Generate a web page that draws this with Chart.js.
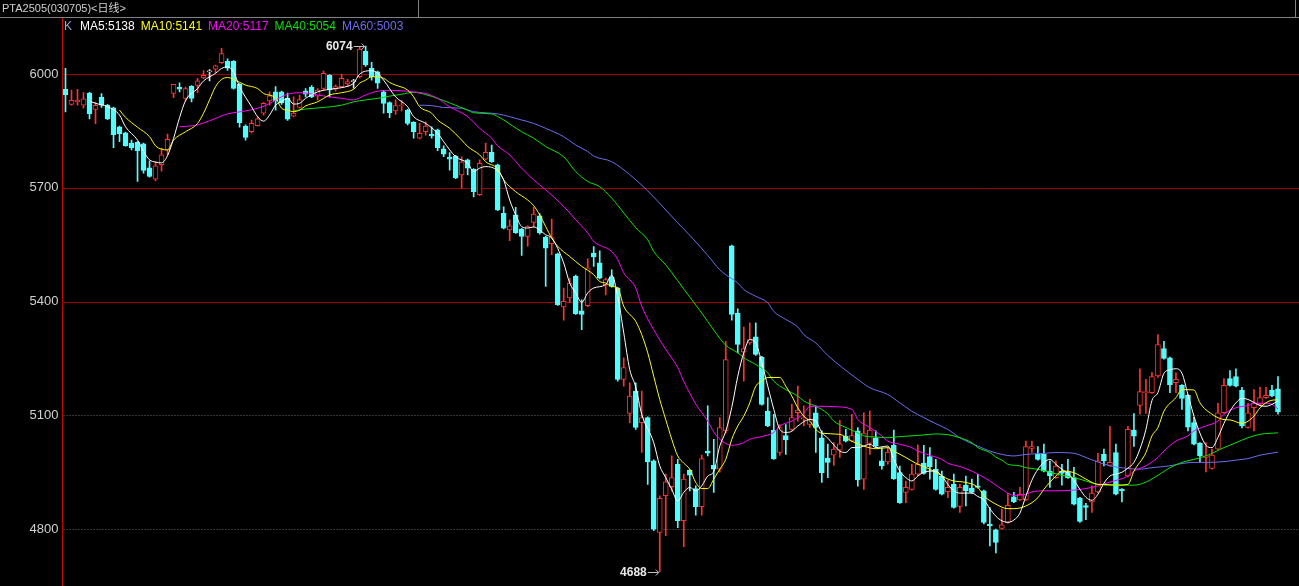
<!DOCTYPE html>
<html>
<head>
<meta charset="utf-8">
<script src="https://cdn.jsdelivr.net/npm/chart.js@4.4.1/dist/chart.umd.min.js"></script>
<style>
  html, body { margin: 0; padding: 0; background: #000; }
  #wrap { width: 1299px; height: 586px; }
</style>
</head>
<body>
<div id="wrap"><canvas id="kline" width="1299" height="586"></canvas></div>
<script>
// PTA2505 daily candles
const title = 'PTA2505(030705)<日线>';
const priceTicks = [4800, 5100, 5400, 5700, 6000];

const opens = [5960,5920,5927,5918,5950,5907,5939,5918,5911,5861,5845,5818,5820,5816,5753,5723,5761,5800,5949,5965,
  5936,5968,5970,5990,6006,6013,6030,6034,6034,5973,5863,5848,5864,5897,5929,5953,5953,5936,5889,5912,
  5955,5965,5942,5962,5997,5960,5967,5974,5980,5993,6061,6015,6006,5953,5925,5903,5916,5905,5873,5831,
  5848,5842,5853,5803,5781,5784,5734,5774,5749,5682,5776,5794,5761,5633,5589,5629,5591,5572,5609,5626,
  5570,5553,5526,5386,5410,5467,5376,5389,5528,5502,5445,5465,5436,5195,5105,5164,5081,5094,4980,4791,
  4888,4912,4971,4822,4955,4907,4859,5005,4968,4958,5059,5547,5370,5267,5291,5307,5254,5111,5061,5002,
  5047,5063,5107,5090,5076,5107,5041,4987,4995,5008,5045,5032,5059,4932,5026,5041,4980,4977,5021,4949,
  4897,4905,4945,4974,4991,4958,4940,4899,4918,4860,4916,4908,4914,4901,4813,4798,4802,4818,4885,4877,
  4877,5013,4997,4997,4953,4936,4953,4951,4936,4882,4862,4872,4898,4997,4968,5002,4905,4940,5061,5126,
  5160,5160,5204,5276,5252,5186,5179,5153,5081,5026,4989,4960,5011,5107,5197,5202,5166,5068,5120,5129,
  5147,5166,5170];
const highs = [6015,5958,5960,5951,5952,5926,5949,5920,5913,5863,5847,5826,5822,5818,5771,5769,5805,5842,5973,5977,
  5966,5970,5989,6009,6012,6024,6068,6040,6036,5975,5866,5879,5888,5925,5953,5967,5955,5950,5940,5945,
  5962,5970,5962,6008,5999,5972,6000,5986,5986,6072,6074,6031,6008,5957,5927,5932,5930,5907,5875,5870,
  5874,5861,5855,5811,5793,5786,5782,5776,5751,5774,5818,5813,5763,5650,5616,5649,5593,5600,5649,5632,
  5572,5618,5528,5436,5462,5470,5405,5513,5545,5534,5462,5484,5438,5252,5186,5186,5164,5096,4983,4888,
  4945,4993,4984,4945,4957,4914,4995,5125,5037,5094,5295,5549,5381,5333,5344,5344,5256,5147,5103,5076,
  5076,5129,5177,5125,5142,5125,5059,5024,5028,5087,5063,5103,5068,5107,5111,5059,5015,5015,5061,4966,
  4927,4971,5022,5021,5015,4984,4953,4929,4945,4918,4940,4932,4945,4903,4857,4800,4853,4895,4897,4910,
  5032,5032,5018,5024,4980,4980,4971,4984,4963,4884,4868,4914,5000,5011,5071,5024,4907,5071,5105,5223,
  5195,5213,5313,5295,5254,5212,5181,5155,5095,5028,5028,5011,5132,5197,5218,5223,5174,5132,5168,5174,
  5174,5179,5202];
const lows = [5900,5918,5918,5910,5882,5869,5912,5880,5806,5822,5810,5800,5717,5739,5728,5719,5744,5787,5938,5953,
  5930,5927,5951,5988,5982,6004,6028,6010,5960,5860,5826,5845,5863,5892,5918,5905,5920,5878,5887,5910,
  5940,5938,5932,5958,5940,5955,5965,5967,5963,5990,6020,5984,5962,5897,5885,5894,5903,5866,5831,5829,
  5839,5831,5798,5782,5747,5724,5699,5734,5676,5680,5774,5767,5640,5592,5561,5580,5522,5546,5597,5578,
  5440,5524,5390,5351,5397,5366,5326,5387,5493,5460,5418,5438,5190,5177,5081,5063,5002,4918,4796,4688,
  4783,4900,4804,4754,4901,4837,4837,4993,4897,4950,5054,5351,5265,5190,5287,5258,5127,5070,4984,4995,
  4997,5060,5085,5072,5068,5002,4923,4936,4968,4989,5030,5030,4913,4905,4997,5017,4958,4971,4931,4868,
  4870,4903,4941,4945,4932,4903,4890,4883,4855,4844,4861,4895,4908,4814,4756,4737,4800,4816,4870,4875,
  4875,5002,4982,4951,4910,4934,4916,4934,4864,4818,4825,4844,4896,4967,4966,4890,4872,4938,5018,5103,
  5105,5158,5200,5248,5160,5160,5116,5059,5022,4977,4951,4958,5009,5105,5177,5175,5067,5066,5059,5127,
  5145,5149,5103];
const closes = [5945,5931,5931,5935,5896,5918,5918,5882,5840,5843,5811,5806,5798,5746,5730,5758,5787,5828,5973,5960,
  5962,5936,5982,5997,6006,6022,6054,6016,5962,5872,5833,5870,5882,5923,5943,5929,5925,5881,5897,5933,
  5947,5940,5958,6002,5958,5967,5989,5980,5980,6066,6024,5993,5976,5923,5898,5917,5918,5870,5848,5844,
  5863,5837,5806,5789,5776,5726,5769,5752,5690,5765,5794,5769,5642,5594,5600,5582,5572,5598,5631,5581,
  5541,5570,5392,5401,5449,5368,5366,5489,5518,5462,5458,5440,5195,5226,5151,5068,5094,4977,4800,4881,
  4925,4936,4822,4932,4942,4859,4986,5000,4958,5068,5247,5366,5287,5276,5300,5261,5129,5072,4986,5068,
  5035,5094,5114,5094,5090,5068,4949,4976,5011,5025,5032,5047,4930,5053,5061,5019,4967,5003,4933,4870,
  4910,4945,4971,4947,4965,4905,4892,4910,4857,4910,4901,4897,4910,4818,4809,4765,4811,4863,4872,4892,
  5018,5018,4984,4953,4940,4966,4947,4936,4866,4820,4857,4895,4980,4980,4976,4892,4901,5063,5045,5163,
  5163,5202,5287,5250,5180,5195,5145,5069,5024,4993,4993,4995,5107,5179,5179,5177,5072,5107,5133,5147,
  5153,5151,5109];

// moving-average lines, sampled as [candle index, value]
const ma5 = [[4,5929],[5,5923],[7,5914],[9,5892],[10,5861],[12,5826],[13,5796],[14,5774],[15,5768],[16,5766],
  [17,5785],[18,5830],[19,5885],[20,5930],[22,5962],[23,5982],[25,6002],[26,6015],[27,6019],[28,6006],[29,5967],
  [31,5914],[32,5888],[33,5876],[34,5892],[35,5918],[36,5927],[37,5936],[38,5921],[39,5923],[40,5936],[42,5953],
  [44,5960],[45,5962],[47,5968],[48,5976],[49,6000],[51,6009],[52,6003],[53,5984],[55,5940],[57,5914],[58,5888],
  [60,5870],[62,5844],[63,5822],[65,5782],[67,5765],[68,5743],[69,5752],[70,5756],[72,5745],[73,5721],[74,5668],
  [75,5629],[76,5598],[77,5594],[78,5597],[79,5589],[80,5576],[81,5568],[83,5502],[84,5449],[85,5423],[86,5398],
  [87,5423],[88,5436],[90,5445],[91,5470],[92,5414],[93,5318],[94,5221],[95,5175],[96,5103],[98,5028],[99,4967],
  [100,4936],[101,4905],[102,4874],[103,4897],[104,4910],[105,4901],[106,4914],[107,4940],[108,4952],[109,5019],
  [110,5058],[111,5121],[112,5203],[113,5265],[114,5300],[115,5291],[116,5239],[117,5177],[118,5116],[119,5063],
  [120,5055],[121,5058],[122,5072],[124,5089],[125,5085],[126,5055],[127,5040],[128,5022],[129,5006],[130,5002],
  [131,5015],[132,5015],[133,5019],[134,5024],[135,5015],[137,5019],[138,4984],[139,4953],[140,4936],[141,4927],
  [142,4940],[143,4950],[144,4953],[145,4953],[146,4940],[147,4918],[148,4901],[149,4895],[150,4895],[151,4895],
  [152,4886],[153,4877],[154,4854],[155,4834],[156,4822],[157,4818],[158,4824],[159,4842],[160,4887],[161,4929],
  [162,4958],[163,4976],[164,4984],[165,4971],[166,4958],[167,4947],[168,4929],[169,4905],[170,4884],[171,4876],
  [172,4892],[173,4921],[174,4940],[175,4945],[176,4950],[177,4961],[178,4976],[179,5011],[180,5063],[181,5139],
  [182,5160],[183,5211],[184,5220],[185,5223],[186,5211],[187,5155],[188,5098],[189,5053],[190,5021],[191,5015],
  [192,5042],[193,5079],[194,5111],[195,5133],[196,5145],[197,5142],[198,5134],[199,5126],[200,5124],[201,5129],
  [202,5138]];
const ma10 = [[9,5905],[10,5886],[12,5860],[14,5835],[15,5811],[16,5802],[17,5800],[18,5826],[20,5848],[22,5870],
  [23,5897],[24,5932],[25,5967],[26,5986],[27,5991],[28,5986],[30,5971],[32,5962],[33,5949],[35,5937],[36,5910],
  [37,5905],[38,5901],[39,5905],[40,5916],[42,5927],[43,5936],[44,5945],[46,5951],[48,5960],[49,5976],[50,5984],
  [51,5993],[53,5989],[54,5978],[55,5971],[57,5958],[58,5940],[59,5914],[61,5897],[62,5879],[64,5857],[66,5826],
  [67,5809],[69,5787],[70,5769],[72,5750],[73,5721],[75,5690],[77,5668],[78,5653],[79,5629],[80,5598],[81,5568],
  [82,5546],[84,5519],[86,5493],[88,5471],[89,5453],[90,5449],[91,5440],[92,5436],[93,5388],[95,5348],[96,5313],
  [97,5265],[98,5203],[99,5142],[100,5089],[101,5037],[102,4993],[103,4974],[104,4958],[105,4923],[106,4907],
  [107,4907],[108,4932],[109,4958],[110,4984],[111,5037],[112,5072],[113,5098],[114,5133],[115,5177],[116,5190],
  [117,5200],[119,5200],[120,5177],[121,5151],[122,5120],[123,5098],[124,5085],[125,5063],[126,5053],[129,5050],
  [131,5032],[133,5019],[135,5012],[137,5015],[138,5006],[140,4989],[142,4971],[143,4965],[145,4950],[147,4932],
  [148,4927],[150,4923],[152,4910],[153,4888],[155,4866],[157,4854],[158,4854],[160,4861],[162,4883],[163,4905],
  [165,4940],[166,4953],[168,4949],[170,4932],[172,4918],[173,4918],[175,4916],[177,4918],[178,4953],[180,5002],
  [181,5046],[182,5068],[183,5111],[185,5147],[186,5168],[188,5167],[189,5133],[191,5103],[193,5089],[194,5088],
  [196,5079],[198,5098],[199,5120],[201,5140],[202,5141]];
const ma20 = [[19,5861],[22,5866],[24,5877],[27,5895],[30,5903],[33,5915],[36,5940],[37,5947],[39,5951],[42,5945],
  [44,5940],[46,5936],[48,5932],[50,5945],[52,5955],[54,5957],[56,5956],[58,5953],[60,5949],[62,5936],[64,5914],
  [67,5888],[69,5857],[71,5831],[72,5811],[74,5787],[76,5752],[78,5721],[80,5695],[83,5651],[85,5616],[87,5581],
  [88,5559],[91,5532],[92,5511],[93,5476],[95,5436],[96,5388],[98,5326],[100,5274],[102,5226],[103,5190],
  [105,5130],[107,5085],[108,5056],[109,5037],[110,5026],[111,5021],[113,5028],[114,5037],[116,5044],[118,5055],
  [119,5072],[121,5085],[123,5105],[124,5124],[126,5124],[128,5123],[131,5116],[132,5089],[134,5068],[136,5046],
  [137,5032],[139,5024],[141,5015],[142,5006],[144,4995],[146,4984],[147,4974],[149,4965],[151,4953],[154,4927],
  [156,4905],[158,4889],[160,4892],[161,4898],[163,4901],[165,4901],[168,4903],[170,4907],[172,4914],[174,4924],
  [177,4940],[178,4953],[180,4967],[182,4989],[183,5006],[185,5032],[187,5046],[188,5059],[190,5072],[192,5085],
  [193,5103],[195,5120],[197,5126],[198,5132],[200,5132],[201,5129],[202,5117]];
const ma40 = [[38,5903],[40,5908],[43,5912],[46,5918],[48,5927],[50,5932],[52,5936],[54,5942],[56,5947],[58,5952],
  [60,5946],[62,5936],[64,5924],[67,5905],[68,5898],[71,5895],[72,5888],[73,5879],[76,5848],[78,5831],[80,5809],
  [83,5782],[85,5743],[87,5717],[89,5703],[91,5673],[93,5634],[95,5595],[97,5563],[98,5532],[100,5497],[102,5455],
  [104,5412],[106,5370],[108,5325],[110,5285],[112,5265],[113,5252],[115,5234],[117,5212],[118,5190],[120,5168],
  [122,5151],[123,5138],[125,5124],[127,5104],[128,5085],[130,5068],[132,5054],[133,5046],[135,5043],[137,5041],
  [139,5044],[142,5047],[144,5050],[145,5051],[147,5049],[149,5041],[151,5028],[152,5015],[154,5002],[155,4990],
  [156,4982],[157,4971],[159,4967],[160,4962],[162,4958],[164,4950],[166,4942],[168,4936],[170,4927],[172,4918],
  [174,4916],[177,4916],[178,4916],[180,4924],[182,4942],[184,4962],[186,4976],[188,4984],[190,4993],[193,5015],
  [195,5028],[197,5041],[199,5050],[202,5054]];
const ma60 = [[59,5918],[61,5917],[63,5912],[66,5910],[68,5901],[70,5898],[72,5895],[76,5879],[78,5870],[80,5857],
  [83,5835],[85,5813],[87,5796],[88,5784],[91,5769],[94,5735],[97,5692],[100,5642],[102,5608],[104,5575],[107,5522],
  [109,5484],[110,5471],[112,5449],[113,5432],[115,5414],[117,5397],[118,5374],[120,5353],[122,5333],[123,5313],
  [125,5291],[127,5258],[132,5195],[134,5173],[137,5155],[139,5133],[141,5111],[143,5094],[145,5078],[147,5063],
  [149,5041],[152,5019],[154,5006],[156,4997],[158,4993],[160,4997],[163,5000],[165,5002],[168,5000],[170,4989],
  [172,4977],[174,4967],[177,4960],[179,4958],[181,4962],[184,4967],[186,4973],[188,4976],[190,4976],[193,4978],
  [195,4982],[197,4986],[199,4995],[202,5003]];

const upColor = '#ff3232';
const downColor = '#54fcfc';
const flatColor = '#e0e0e0';

const n = closes.length;
const labels = Array.from({ length: n + 3 }, (_, i) => String(i)); // a few empty slots on the right

const candleColor = closes.map((c, i) => c > opens[i] ? upColor : (c < opens[i] ? downColor : flatColor));
const bodyFill = closes.map((c, i) => c < opens[i] ? downColor : '#000');

function maSeries(pairs) {
    const arr = new Array(n).fill(null);
    pairs.forEach(function (p) { arr[p[0]] = p[1]; });
    return arr;
}

const lastOf = (pairs) => pairs[pairs.length - 1][1];

const maDefs = [
    { name: 'MA5', pairs: ma5, color: '#ffffff' },
    { name: 'MA10', pairs: ma10, color: '#ffff00' },
    { name: 'MA20', pairs: ma20, color: '#ff00ff' },
    { name: 'MA40', pairs: ma40, color: '#00e600' },
    { name: 'MA60', pairs: ma60, color: '#6c6cf0' }
];

// price lines: the upper three read as solid red, the lower two as dim dots
const priceLines = {
    id: 'priceLines',
    beforeDatasetsDraw(chart) {
        const ctx = chart.ctx, ys = chart.scales.y, area = chart.chartArea;
        ctx.save();
        ctx.lineWidth = 1;
        priceTicks.forEach(function (v) {
            const y = Math.round(ys.getPixelForValue(v)) + 0.5;
            const strong = v >= 5400;
            ctx.strokeStyle = strong ? '#a00000' : '#6a6a6a';
            ctx.setLineDash(strong ? [] : [1, 2]);
            ctx.beginPath();
            ctx.moveTo(area.left + 1, y);
            ctx.lineTo(area.right, y);
            ctx.stroke();
        });
        ctx.restore();
    }
};

// header, legend and the high / low markers
const overlay = {
    id: 'overlay',
    afterDraw(chart) {
        const ctx = chart.ctx;
        const xs = chart.scales.x, ys = chart.scales.y;
        ctx.save();

        ctx.strokeStyle = '#808080';
        ctx.lineWidth = 1;
        ctx.beginPath();
        ctx.moveTo(0, 17.5); ctx.lineTo(chart.width, 17.5);
        ctx.moveTo(418.5, 0); ctx.lineTo(418.5, 17);
        ctx.moveTo(1295.5, 0); ctx.lineTo(1295.5, 17);
        ctx.stroke();

        ctx.font = '11px "Liberation Sans", "Noto Sans CJK SC", sans-serif';
        ctx.textBaseline = 'middle';
        ctx.fillStyle = '#d0d0d0';
        ctx.fillText(title, 2, 9);

        // legend row
        ctx.font = '12px "Liberation Sans", sans-serif';
        let x = 64;
        ctx.fillStyle = '#a0a0e0';
        ctx.fillText('K', x, 27);
        x += ctx.measureText('K').width + 8;
        maDefs.forEach(function (m) {
            const txt = m.name + ':' + lastOf(m.pairs);
            ctx.fillStyle = m.color;
            ctx.fillText(txt, x, 27);
            x += ctx.measureText(txt).width + 6;
        });

        // highest high and lowest low
        let hi = 0, lo = 0;
        for (let i = 1; i < n; i++) {
            if (highs[i] > highs[hi]) hi = i;
            if (lows[i] < lows[lo]) lo = i;
        }
        const marks = [[hi, highs[hi]], [lo, lows[lo]]];
        ctx.font = 'bold 12px "Liberation Sans", sans-serif';
        marks.forEach(function (m) {
            const px = xs.getPixelForValue(m[0]);
            const py = Math.round(ys.getPixelForValue(m[1])) + 0.5;
            ctx.fillStyle = '#e8e8e8';
            ctx.textAlign = 'right';
            ctx.fillText(String(m[1]), px - 13, py);
            ctx.strokeStyle = '#c0c0c0';
            ctx.beginPath();
            ctx.moveTo(px - 12, py); ctx.lineTo(px - 1, py);
            ctx.moveTo(px - 4, py - 3); ctx.lineTo(px - 1, py);
            ctx.lineTo(px - 4, py + 3);
            ctx.stroke();
        });
        ctx.restore();
    }
};

const datasets = [
    {
        type: 'bar',
        data: lows.map((l, i) => [l, highs[i]]),
        backgroundColor: candleColor,
        borderWidth: 0,
        barThickness: 1,
        grouped: false,
        order: 3
    },
    {
        type: 'bar',
        data: opens.map((o, i) => [o, closes[i]]),
        backgroundColor: bodyFill,
        borderColor: candleColor,
        borderWidth: 1,
        borderSkipped: false,
        barThickness: 5,
        minBarLength: 1,
        grouped: false,
        order: 2
    }
];
maDefs.forEach(function (m) {
    datasets.push({
        type: 'line',
        data: maSeries(m.pairs),
        borderColor: m.color,
        borderWidth: 1,
        pointRadius: 0,
        spanGaps: true,
        cubicInterpolationMode: 'monotone',
        order: 1
    });
});

new Chart(document.getElementById('kline').getContext('2d'), {
    type: 'bar',
    data: { labels: labels, datasets: datasets },
    options: {
        responsive: false,
        animation: false,
        events: [],
        layout: { padding: { top: 18, left: 0, right: 0, bottom: 0 } },
        plugins: { legend: { display: false }, tooltip: { enabled: false } },
        scales: {
            x: { display: false, offset: true, grid: { display: false } },
            y: {
                position: 'left',
                min: 4650,
                max: 6148,
                afterBuildTicks: function (s) { s.ticks = priceTicks.map(v => ({ value: v })); },
                afterFit: function (s) { s.width = 62.5; s.paddingTop = 0; s.paddingBottom = 0; },
                ticks: {
                    color: '#d0d0d0',
                    padding: 4,
                    font: { family: '"Liberation Sans", sans-serif', size: 13 },
                    callback: (v) => String(v)
                },
                grid: { display: false, drawTicks: false },
                border: { display: true, color: '#d00000', width: 1 }
            }
        }
    },
    plugins: [priceLines, overlay]
});
</script>
</body>
</html>
